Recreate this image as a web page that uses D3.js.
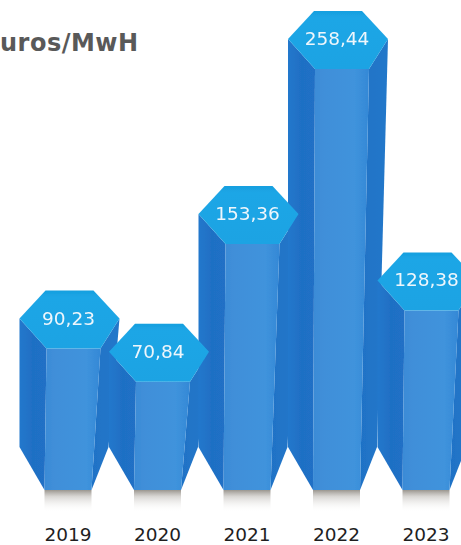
<!DOCTYPE html>
<html>
<head>
<meta charset="utf-8">
<script src="https://d3js.org/d3.v7.min.js"></script>
<style>
  html, body { margin: 0; padding: 0; background: #fff; overflow: hidden; }
  svg { display: block; }
  text { font-family: "DejaVu Sans", Verdana, sans-serif; }
</style>
</head>
<body>
<svg id="chart"></svg>
<script>
// Data
const years = ['2019', '2020', '2021', '2022', '2023'];
const valueLabels = ['90,23', '70,84', '153,36', '258,44', '128,38'];
// Heights as drawn in the picture. 2023 is drawn shorter than its label says.
const drawnValues = [90, 70, 153, 258.44, 113];
// The reference crop loses the first letter, only this part is visible
const unitLabel = 'uros/MwH';

// Chart vars
const width = 461;
const height = 545;
const baseY = 490;
const taperY = 447;

const chart = d3.select('#chart')
  .attr('width', width)
  .attr('height', height);

const xScale = d3.scalePoint()
  .domain(years)
  .range([69.5, 427.5]);

const yScale = d3.scaleLinear()
  .domain([0, 258.44])
  .range([440, 11]);

const bars = years.map((year, i) => ({
  year,
  label: valueLabels[i],
  cx: xScale(year),
  top: yScale(drawnValues[i])
}));

// Gradients
const defs = chart.append('defs');

function addGradient(id, stops, vertical) {
  const grad = defs.append('linearGradient')
    .attr('id', id)
    .attr('x1', 0).attr('y1', 0)
    .attr('x2', vertical ? 0 : 1).attr('y2', vertical ? 1 : 0);
  stops.forEach(s => grad.append('stop').attr('offset', s[0]).attr('stop-color', s[1]).attr('stop-opacity', s[2] === undefined ? 1 : s[2]));
}

addGradient('frontGrad', [[0, '#3a8bd6'], [0.2, '#418fd9'], [0.75, '#3f93dc'], [1, '#3488d6']]);
addGradient('leftGrad', [[0, '#2478cc'], [0.5, '#1f6fc4'], [1, '#2070c6']]);
addGradient('rightGrad', [[0, '#1f72c6'], [1, '#2378ca']]);
addGradient('hexGrad', [[0, '#149fdf'], [0.12, '#1fa6e6'], [1, '#1ea3e3']], true);
addGradient('shadowGrad', [[0, '#8f8a82', 0.9], [0.3, '#c9c6c2', 0.7], [1, '#ffffff', 0]], true);

defs.append('filter').attr('id', 'soft')
  .append('feGaussianBlur').attr('stdDeviation', 0.6);
defs.append('filter').attr('id', 'softText')
  .append('feGaussianBlur').attr('stdDeviation', 0.35);

const line = d3.line();

// Shapes, all relative to the bar centre and its top
const hexPoints = d => [
  [d.cx - 24, d.top], [d.cx + 24, d.top], [d.cx + 50, d.top + 28],
  [d.cx + 31, d.top + 58], [d.cx - 23, d.top + 58], [d.cx - 50, d.top + 28]
];
const leftPoints = d => [
  [d.cx - 50, d.top + 28], [d.cx - 23, d.top + 58], [d.cx - 25, baseY],
  [d.cx - 25, baseY], [d.cx - 50, taperY]
];
const frontPoints = d => [
  [d.cx - 23, d.top + 58], [d.cx + 31, d.top + 58], [d.cx + 22, baseY], [d.cx - 25, baseY]
];
const rightPoints = d => [
  [d.cx + 31, d.top + 58], [d.cx + 50, d.top + 28], [d.cx + 39, taperY], [d.cx + 22, baseY]
];

// Ground shadow
chart.selectAll('rect.shadow')
  .data(bars)
  .enter()
  .append('rect')
  .attr('class', 'shadow')
  .attr('x', d => d.cx - 25)
  .attr('y', baseY)
  .attr('width', 47)
  .attr('height', 22)
  .attr('fill', 'url(#shadowGrad)');

// Bar bodies, left to right
const body = chart.selectAll('g.bar')
  .data(bars)
  .enter()
  .append('g')
  .attr('class', 'bar')
  .attr('filter', 'url(#soft)');

body.append('path').attr('d', d => line(rightPoints(d)) + 'Z').attr('fill', 'url(#rightGrad)');
body.append('path').attr('d', d => line(leftPoints(d)) + 'Z').attr('fill', 'url(#leftGrad)');
body.append('path').attr('d', d => line(frontPoints(d)) + 'Z').attr('fill', 'url(#frontGrad)');

// Hexagon caps go over all bodies, short bars overlap their taller neighbours
chart.selectAll('path.cap')
  .data(bars)
  .enter()
  .append('path')
  .attr('class', 'cap')
  .attr('d', d => line(hexPoints(d)) + 'Z')
  .attr('fill', 'url(#hexGrad)')
  .attr('filter', 'url(#soft)');

// Value labels
chart.selectAll('text.value')
  .data(bars)
  .enter()
  .append('text')
  .attr('class', 'value')
  .attr('x', d => d.cx - 1)
  .attr('y', d => d.top + 34)
  .attr('text-anchor', 'middle')
  .attr('font-size', 18.5)
  .attr('fill', '#eef6fc')
  .attr('filter', 'url(#softText)')
  .text(d => d.label);

// Year labels
const xAxis = d3.axisBottom(xScale).tickSize(0).tickPadding(0);

const xAxisGroup = chart.append('g')
  .attr('transform', 'translate(-2, 527.5)')
  .call(xAxis);

xAxisGroup.select('.domain').remove();
xAxisGroup.selectAll('text')
  .attr('font-family', '"DejaVu Sans", Verdana, sans-serif')
  .attr('font-size', 18.5)
  .attr('fill', '#1f1f1f');

// Unit title
chart.append('text')
  .attr('x', 0)
  .attr('y', 51)
  .attr('font-size', 24)
  .attr('font-weight', 'bold')
  .attr('letter-spacing', 0.5)
  .attr('fill', '#595959')
  .text(unitLabel);
</script>
</body>
</html>
